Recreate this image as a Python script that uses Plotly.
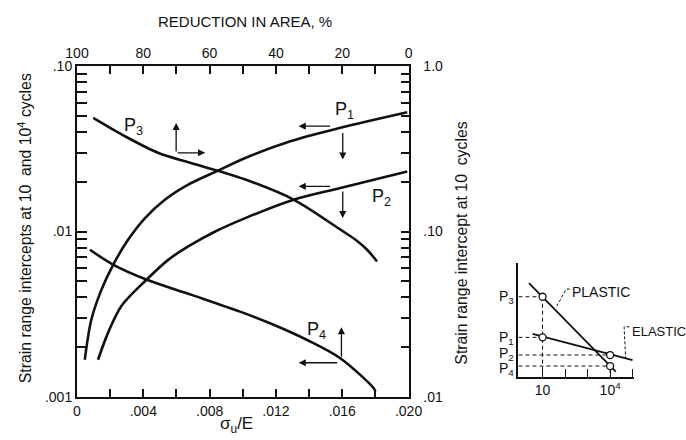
import math
import plotly.graph_objects as go

# ---------------- data ----------------
# P1, P2 : sigma_u/E (bottom axis) vs left axis
p1_x = [0.00047, 0.00086, 0.00147, 0.00218, 0.00308, 0.00409, 0.00530, 0.00671, 0.00854, 0.01015, 0.01287, 0.01589, 0.01992]
p1_y = [0.00168, 0.00292, 0.00444, 0.00629, 0.00891, 0.01202, 0.01556, 0.0192, 0.0234, 0.0278, 0.0351, 0.0423, 0.0525]
p2_x = [0.00127, 0.00187, 0.00268, 0.00419, 0.00550, 0.00671, 0.00834, 0.01015, 0.01307, 0.01589, 0.01992]
p2_y = [0.00168, 0.00244, 0.00355, 0.00511, 0.00674, 0.00812, 0.0100, 0.01205, 0.01556, 0.01833, 0.02306]
# P3 : reduction in area (top axis) vs right axis
p3_ra = [95.1, 85.5, 75.4, 66.4, 57.3, 49.2, 34.7, 20.5, 16.0, 12.5, 9.5]
p3_y = [0.486, 0.376, 0.298, 0.262, 0.232, 0.206, 0.156, 0.1025, 0.0891, 0.0776, 0.0659]
# P4 : reduction in area (top axis) vs left axis
p4_ra = [96.1, 89.0, 78.9, 65.4, 50.8, 40.7, 30.6, 20.5, 10.5, 10.0]
p4_y = [0.00776, 0.00629, 0.00511, 0.00414, 0.00328, 0.00273, 0.00221, 0.00171, 0.00113, 0.00108]

bottom_ticks = [0, 0.004, 0.008, 0.012, 0.016, 0.020]
bottom_labels = ["0", ".004", ".008", ".012", ".016", ".020"]
bottom_minor = [0.002, 0.006, 0.010, 0.014, 0.018]
top_ticks = [100, 80, 60, 40, 20, 0]
top_labels = ["100", "80", "60", "40", "20", "0"]
top_minor = [90, 70, 50, 30, 10]
left_ticks = [0.001, 0.01, 0.1]
left_labels = [".001", ".01", ".10"]
right_ticks = [0.01, 0.1, 1.0]
right_labels = [".01", ".10", "1.0"]
mant = [2, 3, 4, 5, 6, 7, 8, 9]
left_minor = [m * 0.001 for m in mant] + [m * 0.01 for m in mant]
right_minor = [m * 0.01 for m in mant] + [m * 0.1 for m in mant]

# inset schematic (cycles, log strain in arbitrary units)
inset_names = ["P<sub>3</sub>", "P<sub>1</sub>", "P<sub>2</sub>", "P<sub>4</sub>"]
inset_N = [10, 10, 1e4, 1e4]
inset_y = [7.05, 3.47, 1.91, 0.94]
plastic_N = [2.5, 17800]
plastic_y = [8.25, 0.45]
elastic_N = [3.6, 98900]
elastic_y = [3.77, 1.47]
inset_ticks = [10, 100, 1000, 1e4, 1e5]
inset_labels = ["10", "", "", "10<sup>4</sup>", ""]

# arrows: (x tip on bottom axis scale, y tip on left axis scale, tail offset px x, y)
arrows = [
    (0.01337, 0.0433, 33, 0), (0.01603, 0.0272, 0, -28),     # P1
    (0.01337, 0.01875, 33, 0), (0.01603, 0.01205, 0, -28),   # P2
    (0.00598, 0.0453, 0, 30), (0.00773, 0.0299, -29, 0),     # P3
    (0.01595, 0.00264, 0, 31), (0.01337, 0.00161, 40, 0),    # P4
]
curve_labels = [
    ("P<sub>1</sub>", 0.01547, 0.0538),
    ("P<sub>2</sub>", 0.01770, 0.0160),
    ("P<sub>3</sub>", 0.00270, 0.0431),
    ("P<sub>4</sub>", 0.01378, 0.00254),
]

FONT = "Liberation Sans, Arial, sans-serif"
BLACK = "#111"
W = 594.0  # effective plotting-paper width


def with_minor(vals, labels, minor):
    tv = list(vals) + list(minor)
    tt = list(labels) + [""] * len(minor)
    return tv, tt


fig = go.Figure()
line = dict(color=BLACK, width=2.6, shape="spline", smoothing=0.9)
fig.add_trace(go.Scatter(x=p1_x, y=p1_y, mode="lines", line=line, xaxis="x", yaxis="y", name="P1"))
fig.add_trace(go.Scatter(x=p2_x, y=p2_y, mode="lines", line=line, xaxis="x", yaxis="y", name="P2"))
fig.add_trace(go.Scatter(x=p3_ra, y=p3_y, mode="lines", line=line, xaxis="x2", yaxis="y2", name="P3"))
fig.add_trace(go.Scatter(x=p4_ra, y=p4_y, mode="lines", line=line, xaxis="x2", yaxis="y", name="P4"))

# inset
ixmin = 10 ** -0.07
dash = dict(color=BLACK, width=1, dash="4px,3px")
for n, yv in zip(inset_N, inset_y):
    fig.add_trace(go.Scatter(x=[ixmin, n], y=[yv, yv], mode="lines", line=dash, xaxis="x3", yaxis="y3"))
fig.add_trace(go.Scatter(x=[10, 10], y=[max(inset_y[0], inset_y[1]), 0], mode="lines", line=dash,
                         xaxis="x3", yaxis="y3"))
fig.add_trace(go.Scatter(x=[1e4, 1e4], y=[max(inset_y[2], inset_y[3]), 0], mode="lines", line=dash,
                         xaxis="x3", yaxis="y3"))
fig.add_trace(go.Scatter(x=plastic_N, y=plastic_y, mode="lines", line=dict(color=BLACK, width=1.8),
                         xaxis="x3", yaxis="y3"))
fig.add_trace(go.Scatter(x=elastic_N, y=elastic_y, mode="lines", line=dict(color=BLACK, width=1.8),
                         xaxis="x3", yaxis="y3"))
# leaders from the labels
lead = dict(color=BLACK, width=1, dash="3px,2px")
fig.add_trace(go.Scatter(x=[10 ** 2.2, 10 ** 2.05, 10 ** 1.59], y=[7.73, 7.73, 6.06], mode="lines",
                         line=lead, xaxis="x3", yaxis="y3"))
fig.add_trace(go.Scatter(x=[10 ** 4.86, 10 ** 4.62, 10 ** 4.69], y=[4.4, 4.4, 1.62], mode="lines",
                         line=lead, xaxis="x3", yaxis="y3"))
fig.add_trace(go.Scatter(x=inset_N, y=inset_y, mode="markers",
                         marker=dict(symbol="circle", size=7, color="white", line=dict(color=BLACK, width=1.3)),
                         xaxis="x3", yaxis="y3", cliponaxis=False))

ann = []
for (x, y, ax, ay) in arrows:
    ann.append(dict(x=x, y=math.log10(y), xref="x", yref="y", ax=ax, ay=ay, axref="pixel", ayref="pixel",
                    showarrow=True, arrowhead=2, arrowsize=1.1, arrowwidth=1.3, arrowcolor=BLACK, text=""))
for (t, x, y) in curve_labels:
    ann.append(dict(x=x, y=math.log10(y), xref="x", yref="y", text=t, showarrow=False, xanchor="left",
                    yanchor="middle", font=dict(family=FONT, size=18, color=BLACK)))
for t, yv, ys in zip(inset_names, inset_y, [0, -1, 1, -3]):
    ann.append(dict(x=0, y=yv, xref="x3 domain", yref="y3", text=t, showarrow=False, xanchor="right",
                    yanchor="middle", xshift=-2, yshift=ys, font=dict(family=FONT, size=14, color=BLACK)))
ann.append(dict(x=2.24, y=7.5, xref="x3", yref="y3", text="PLASTIC", showarrow=False, xanchor="left",
                yanchor="middle", font=dict(family=FONT, size=14, color=BLACK)))
ann.append(dict(x=4.88, y=4.0, xref="x3", yref="y3", text="ELASTIC", showarrow=False, xanchor="left",
                yanchor="middle", font=dict(family=FONT, size=13, color=BLACK)))
# titles
ann.append(dict(x=(244.5 - 77) / W, y=1, xref="paper", yref="paper", yshift=45, text="REDUCTION IN AREA, %",
                showarrow=False, xanchor="center", yanchor="middle", font=dict(family=FONT, size=15, color=BLACK)))
ann.append(dict(x=(236 - 77) / W, y=0, xref="paper", yref="paper", yshift=-28, text="σ<sub>u</sub>/E",
                showarrow=False, xanchor="center", yanchor="middle", font=dict(family=FONT, size=17, color=BLACK)))
ann.append(dict(x=0, y=0.51, xref="paper", yref="paper", xshift=-52,
                text="Strain range intercepts at 10\u00a0 and 10<sup>4</sup> cycles", textangle=-90,
                showarrow=False, xanchor="center", yanchor="middle", font=dict(family=FONT, size=15.8, color=BLACK)))
ann.append(dict(x=331 / W, y=0.465, xref="paper", yref="paper", xshift=53,
                text="Strain range intercept at 10\u00a0 cycles", textangle=-90,
                showarrow=False, xanchor="center", yanchor="middle", font=dict(family=FONT, size=15.8, color=BLACK)))

tickfont = dict(family=FONT, size=14, color=BLACK)
common = dict(showgrid=False, zeroline=False, showline=True, linecolor=BLACK, linewidth=2,
              ticks="inside", tickcolor=BLACK, tickwidth=1.5, tickfont=tickfont)
xdom = [0, 331 / W]
ltv, ltt = with_minor(left_ticks, left_labels, left_minor)
rtv, rtt = with_minor(right_ticks, right_labels, right_minor)
btv, btt = with_minor(bottom_ticks, bottom_labels, bottom_minor)
ttv, ttt = with_minor(top_ticks, top_labels, top_minor)
fig.update_layout(
    width=686, height=440, margin=dict(l=77, r=0, t=66, b=43),
    paper_bgcolor="white", plot_bgcolor="white", showlegend=False,
    xaxis=dict(domain=xdom, range=[0, 0.02], tickmode="array", tickvals=btv, ticktext=btt,
               ticklen=8, anchor="y", **common),
    xaxis2=dict(domain=xdom, range=[100, 0], overlaying="x", side="top", anchor="y", tickmode="array",
                tickvals=ttv, ticktext=ttt, ticklen=8, ticklabelstandoff=0, **common),
    yaxis=dict(domain=[0, 1], type="log", range=[-3, -1], tickmode="array", tickvals=ltv,
               ticktext=ltt, ticklen=10, anchor="x", **common),
    yaxis2=dict(domain=[0, 1], type="log", range=[-2, 0], overlaying="y", side="right", anchor="x",
                tickmode="array", tickvals=rtv, ticktext=rtt, ticklen=8, ticklabelstandoff=10, **common),
    xaxis3=dict(domain=[(517.7 - 77) / W, (633.3 - 77) / W], type="log", range=[-0.07, 5.07], anchor="y3",
                tickmode="array", tickvals=inset_ticks, ticktext=inset_labels, ticklen=8, showgrid=False,
                zeroline=False, showline=True, linecolor=BLACK, linewidth=1.6, ticks="inside", tickcolor=BLACK,
                tickwidth=1.4, tickfont=dict(family=FONT, size=14, color=BLACK)),
    yaxis3=dict(domain=[(397 - 376.7) / 331, (397 - 263.3) / 331], range=[0, 10], anchor="x3", showgrid=False,
                zeroline=False, showline=True, linecolor=BLACK, linewidth=1.6, showticklabels=False, ticks=""),
    annotations=ann,
)

fig.write_html("out.html")
